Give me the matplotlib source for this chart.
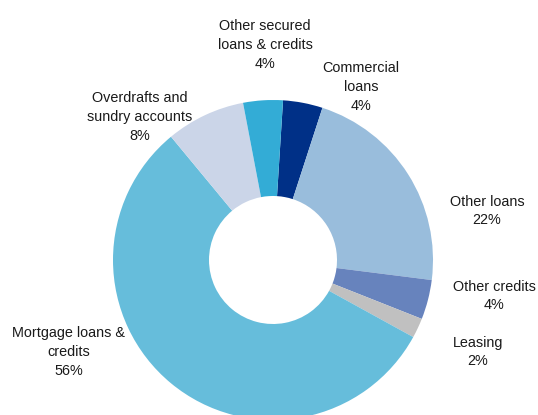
import matplotlib
matplotlib.use('Agg')
from matplotlib import pyplot as plt

# %% data

labels = ['Commercial\nloans', 'Other loans', 'Other credits', 'Leasing',
          'Mortgage loans &\ncredits', 'Overdrafts and\nsundry accounts',
          'Other secured\nloans & credits']
shares = [4, 22, 4, 2, 56, 8, 4]
colors = ['#003087', '#99bddc', '#6783bd', '#c0c0c0',
          '#66bddb', '#cbd5e8', '#33acd6']

# label centres in pixels (x, y from top)
label_pos = [(361, 87), (487, 211), (494, 296), (478, 352),
             (69, 352), (140, 117), (265, 45)]

# %% figure

W, H = 538, 415
plt.rcParams['font.family'] = ['Liberation Sans', 'DejaVu Sans']
fig = plt.figure(figsize=(W / 100, H / 100), dpi=100)
fig.patch.set_facecolor('white')

cx, cy, r = 273, 260, 160
ax = fig.add_axes([(cx - r) / W, 1 - (cy + r) / H, 2 * r / W, 2 * r / H])
ax.pie(shares, colors=colors, startangle=86.4, counterclock=False,
       radius=1, wedgeprops=dict(width=0.6, linewidth=0))
ax.set_xlim(-1, 1)
ax.set_ylim(-1, 1)
ax.set_aspect('equal')
ax.axis('off')

for lab, val, (x, y) in zip(labels, shares, label_pos):
    fig.text(x / W, 1 - y / H, '%s\n%d%%' % (lab, val), ha='center',
             va='center', fontsize=10.4, linespacing=1.42, color='#1a1a1a')

fig.savefig('out.png', dpi=100, facecolor='white')
